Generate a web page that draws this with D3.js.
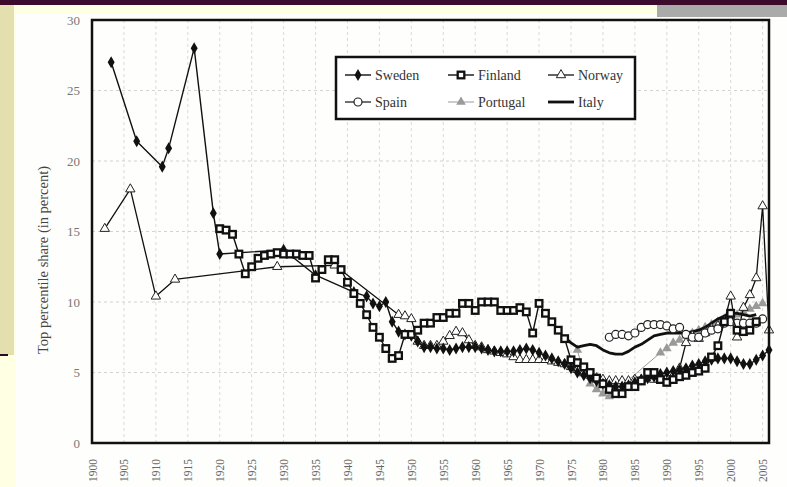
<!DOCTYPE html>
<html>
<head>
<meta charset="utf-8">
<script src="https://cdn.jsdelivr.net/npm/d3@7"></script>
<style>
html,body{margin:0;padding:0;background:#FFFFE4;}
svg{display:block;}
</style>
</head>
<body>
<svg id="chart" width="787" height="487"></svg>
<script>
// ---------------- DATA ----------------
const swedenYears  = [1903,1907,1911,1912,1916,1919,1920,1930,1935,1941,1943,1944,1945,1946,1947,1948,1949,1950,1951,1952,1953,1954,1955,1956,1957,1958,1959,1960,1961,1962,1963,1964,1965,1966,1967,1968,1969,1970,1971,1972,1973,1974,1975,1976,1977,1978,1979,1980,1981,1982,1983,1984,1985,1986,1987,1988,1989,1990,1991,1992,1993,1994,1995,1996,1997,1998,1999,2000,2001,2002,2003,2004,2005,2006];
const swedenValues = [27.0,21.4,19.6,20.9,28.0,16.3,13.4,13.7,11.9,10.7,10.4,9.9,9.7,10.0,8.6,7.9,7.7,7.6,7.2,6.8,6.8,6.7,6.7,6.6,6.7,6.8,6.8,6.8,6.7,6.6,6.5,6.5,6.5,6.5,6.6,6.7,6.6,6.4,6.2,6.0,5.8,5.6,5.3,5.0,4.8,4.6,4.4,4.2,4.1,4.0,4.0,4.1,4.3,4.5,4.6,4.7,4.9,5.0,5.1,5.2,5.3,5.5,5.6,5.8,5.9,6.0,6.0,6.0,5.8,5.6,5.6,5.9,6.2,6.6];

const finlandYears  = [1920,1921,1922,1923,1924,1925,1926,1927,1928,1929,1930,1931,1932,1933,1934,1935,1936,1937,1938,1939,1940,1941,1942,1943,1944,1945,1946,1947,1948,1949,1950,1951,1952,1953,1954,1955,1956,1957,1958,1959,1960,1961,1962,1963,1964,1965,1966,1967,1968,1969,1970,1971,1972,1973,1974,1975,1976,1977,1978,1979,1980,1981,1982,1983,1984,1985,1986,1987,1988,1989,1990,1991,1992,1993,1994,1995,1996,1997,1998,1999,2000,2001,2002,2003,2004];
const finlandValues = [15.2,15.1,14.8,13.4,12.0,12.5,13.1,13.3,13.4,13.5,13.4,13.4,13.4,13.3,13.3,11.7,12.3,13.0,13.0,12.3,11.4,10.6,9.9,9.1,8.2,7.5,6.7,6.0,6.2,7.7,7.7,8.0,8.5,8.5,8.9,8.9,9.2,9.2,9.9,9.9,9.4,10.0,10.0,10.0,9.4,9.4,9.4,9.6,9.3,7.8,9.9,9.2,8.6,8.0,7.4,5.9,5.7,5.4,5.0,4.6,4.2,3.8,3.5,3.5,4.0,4.0,4.4,5.0,5.0,4.5,4.3,4.5,4.7,4.8,5.0,5.1,5.3,6.1,6.9,8.6,9.2,8.0,7.9,8.0,8.6];

const norwayYears  = [1902,1906,1910,1913,1929,1938,1948,1949,1950,1951,1952,1953,1954,1955,1956,1957,1958,1959,1960,1961,1962,1963,1964,1965,1966,1967,1968,1969,1970,1971,1972,1973,1974,1975,1976,1977,1978,1979,1980,1981,1982,1983,1984,1985,1986,1987,1988,1989,1990,1991,1992,1993,1994,1995,1996,1997,1998,1999,2000,2001,2002,2003,2004,2005,2006];
const norwayValues = [15.2,18.0,10.4,11.6,12.5,12.6,9.1,9.0,8.8,7.2,6.9,6.9,6.9,7.2,7.6,7.9,7.8,7.3,6.9,6.8,6.6,6.5,6.4,6.3,6.1,5.9,5.9,5.9,5.9,5.9,5.8,5.7,5.6,5.4,5.2,5.0,4.8,4.6,4.5,4.4,4.4,4.4,4.4,4.5,4.5,4.6,4.5,4.5,4.6,4.8,5.3,7.1,7.6,7.4,7.8,8.1,8.3,8.6,10.4,7.5,9.6,10.5,11.7,16.8,8.0];

const spainYears  = [1981,1982,1983,1984,1985,1986,1987,1988,1989,1990,1991,1992,1993,1994,1995,1996,1997,1998,1999,2000,2001,2002,2003,2004,2005];
const spainValues = [7.5,7.7,7.7,7.6,7.8,8.2,8.4,8.4,8.4,8.3,8.1,8.2,7.7,7.5,7.5,7.8,8.0,8.1,8.5,8.6,8.5,8.5,8.5,8.5,8.8];

const portugalYears  = [1976,1977,1978,1979,1980,1981,1982,1989,1990,1991,1992,1993,1994,1995,1996,1997,1998,1999,2000,2001,2002,2003,2004,2005];
const portugalValues = [6.6,4.9,4.2,3.8,3.5,3.3,3.7,6.4,6.7,7.1,7.3,7.6,7.8,8.0,8.2,8.4,8.6,8.8,9.1,9.1,9.3,9.5,9.7,9.9];

const italyYears  = [1974,1975,1976,1977,1978,1979,1980,1981,1982,1983,1984,1985,1986,1987,1988,1989,1990,1991,1992,1993,1994,1995,1996,1997,1998,1999,2000,2001,2002,2003,2004];
const italyValues = [7.5,7.1,6.8,6.9,7.0,6.9,6.6,6.4,6.3,6.3,6.5,6.8,7.0,7.3,7.6,7.7,7.8,7.8,7.8,7.8,7.9,8.0,8.2,8.5,8.8,9.0,9.2,9.2,9.1,9.0,9.1];

const xTickYears = [1900,1905,1910,1915,1920,1925,1930,1935,1940,1945,1950,1955,1960,1965,1970,1975,1980,1985,1990,1995,2000,2005];
const yTicks = [0,5,10,15,20,25,30];
const yTitle = "Top percentile share (in percent)";
const legendNames = ["Sweden","Finland","Norway","Spain","Portugal","Italy"];

// ---------------- DRAW ----------------
const svg = d3.select("#chart");

// slide decoration
svg.append("rect").attr("x",0).attr("y",0).attr("width",787).attr("height",487).attr("fill","#FFFFE4");
svg.append("rect").attr("x",0).attr("y",5).attr("width",14).attr("height",350).attr("fill","#E4DFAE");
svg.append("rect").attr("x",0).attr("y",354).attr("width",8).attr("height",2).attr("fill","#2a0a22");
svg.append("rect").attr("x",16).attr("y",14).attr("width",771).attr("height",473).attr("fill","#FEFEFC");
svg.append("rect").attr("x",0).attr("y",0).attr("width",787).attr("height",5).attr("fill","#3B0A2C");
svg.append("rect").attr("x",657).attr("y",5).attr("width",130).attr("height",12).attr("fill","#AAAAAA");

const L = 92, R = 769, T = 20, B = 443;
const x = d3.scaleLinear().domain([1900,2006]).range([L,R]);
const y = d3.scaleLinear().domain([0,30]).range([B,T]);

// grid
const grid = svg.append("g");
grid.selectAll("line.h").data(yTicks.filter(d=>d>0 && d<30)).enter().append("line")
  .attr("x1",L).attr("x2",R).attr("y1",d=>y(d)).attr("y2",d=>y(d))
  .attr("stroke","#c8c8c8").attr("stroke-width",0.8).attr("stroke-dasharray","3,3");
grid.selectAll("line.v").data(xTickYears.filter(d=>d>1900)).enter().append("line")
  .attr("y1",T).attr("y2",B).attr("x1",d=>x(d)).attr("x2",d=>x(d))
  .attr("stroke","#d0d0d0").attr("stroke-width",0.8).attr("stroke-dasharray","3,3");

// axes (labels)
const yAxis = d3.axisLeft(y).tickValues(yTicks).tickSize(0).tickPadding(12);
const gy = svg.append("g").attr("transform",`translate(${L},0)`).call(yAxis);
gy.select(".domain").remove();
gy.selectAll("text").attr("font-family","Liberation Serif, serif").attr("font-size",13).attr("fill","#777");

const xAxis = d3.axisBottom(x).tickValues(xTickYears).tickFormat(d3.format("d")).tickSize(0).tickPadding(0);
const gx = svg.append("g").attr("transform",`translate(0,${B})`).call(xAxis);
gx.select(".domain").remove();
gx.selectAll("text")
  .attr("font-family","Liberation Serif, serif").attr("font-size",11.5).attr("fill","#666")
  .attr("text-anchor","end").attr("dy","0.35em")
  .attr("transform","translate(0,16) rotate(-90)").attr("x",0).attr("y",0);

svg.append("text").attr("transform","translate(48,260) rotate(-90)")
  .attr("text-anchor","middle").attr("font-family","Liberation Serif, serif")
  .attr("font-size",14.5).attr("fill","#444").text(yTitle);

// series
const plot = svg.append("g");
const zip = (ys,vs)=>ys.map((yr,i)=>({year:yr,value:vs[i]}));
const line = d3.line().x(d=>x(d.year)).y(d=>y(d.value));

const series = [
  {name:"Portugal", data:zip(portugalYears,portugalValues), stroke:"#9a9a9a", width:1, marker:"grayTri"},
  {name:"Italy", data:zip(italyYears,italyValues), stroke:"#111", width:2.8, marker:null},
  {name:"Norway", data:zip(norwayYears,norwayValues), stroke:"#111", width:1.3, marker:"openTri"},
  {name:"Spain", data:zip(spainYears,spainValues), stroke:"#111", width:1.2, marker:"circle"},
  {name:"Sweden", data:zip(swedenYears,swedenValues), stroke:"#111", width:1.4, marker:"diamond"},
  {name:"Finland", data:zip(finlandYears,finlandValues), stroke:"#111", width:1.4, marker:"square"}
];

function drawMarker(g, type, cx, cy){
  if(type==="diamond"){
    g.append("path").attr("d",d3.symbol(d3.symbolDiamond,42)()).attr("transform",`translate(${cx},${cy})`).attr("fill","#111");
  } else if(type==="square"){
    g.append("rect").attr("x",cx-3.3).attr("y",cy-3.3).attr("width",6.6).attr("height",6.6)
      .attr("fill","#fff").attr("stroke","#111").attr("stroke-width",2.3);
  } else if(type==="openTri"){
    g.append("path").attr("d",d3.symbol(d3.symbolTriangle,38)()).attr("transform",`translate(${cx},${cy})`)
      .attr("fill","#fff").attr("stroke","#222").attr("stroke-width",1);
  } else if(type==="circle"){
    g.append("circle").attr("cx",cx).attr("cy",cy).attr("r",4).attr("fill","#fff").attr("stroke","#222").attr("stroke-width",1.2);
  } else if(type==="grayTri"){
    g.append("path").attr("d",d3.symbol(d3.symbolTriangle,40)()).attr("transform",`translate(${cx},${cy})`).attr("fill","#9a9a9a");
  }
}

series.forEach(s=>{
  plot.append("path").datum(s.data).attr("d",line).attr("fill","none")
    .attr("stroke",s.stroke).attr("stroke-width",s.width).attr("stroke-linejoin","round");
  if(s.marker){
    const mg = plot.append("g");
    s.data.forEach(d=>drawMarker(mg,s.marker,x(d.year),y(d.value)));
  }
});

// frame
svg.append("rect").attr("x",L).attr("y",T).attr("width",R-L).attr("height",B-T)
  .attr("fill","none").attr("stroke","#111").attr("stroke-width",2.5);

// legend
const lg = svg.append("g");
lg.append("rect").attr("x",336).attr("y",57).attr("width",299).attr("height",62)
  .attr("fill","#fff").attr("stroke","#111").attr("stroke-width",2.5);
const legendItems = [
  {name:legendNames[0], marker:"diamond", stroke:"#111", w:1.4, col:0, row:0},
  {name:legendNames[1], marker:"square", stroke:"#111", w:1.4, col:1, row:0},
  {name:legendNames[2], marker:"openTri", stroke:"#111", w:1.3, col:2, row:0},
  {name:legendNames[3], marker:"circle", stroke:"#111", w:1.2, col:0, row:1},
  {name:legendNames[4], marker:"grayTri", stroke:"#9a9a9a", w:1, col:1, row:1},
  {name:legendNames[5], marker:null, stroke:"#111", w:2.8, col:2, row:1}
];
const colX = [345,448,548];
const rowY = [75,102];
legendItems.forEach(it=>{
  const x0 = colX[it.col], yy = rowY[it.row];
  lg.append("line").attr("x1",x0).attr("x2",x0+26).attr("y1",yy).attr("y2",yy)
    .attr("stroke",it.stroke).attr("stroke-width",it.w);
  if(it.marker) drawMarker(lg,it.marker,x0+13,yy);
  lg.append("text").attr("x",x0+30).attr("y",yy).attr("dy","0.33em")
    .attr("font-family","Liberation Serif, serif").attr("font-size",14).attr("fill","#333").text(it.name);
});
</script>
</body>
</html>
